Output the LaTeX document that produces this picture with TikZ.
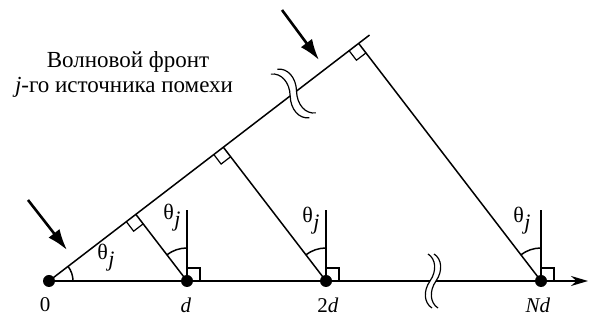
\documentclass[tikz,border=0pt]{standalone}
\usepackage{fontspec}
\setmainfont{Liberation Serif}
\usetikzlibrary{arrows.meta,calc}
\begin{document}
\begin{tikzpicture}[x=1pt,y=1pt,
  ln/.style={line width=1.5pt},
  axisline/.style={line width=2pt},
  dot/.style={circle,fill,inner sep=0pt,minimum size=12pt},
  lbl/.style={font=\fontsize{21}{21}\selectfont, inner sep=0pt},
  thl/.style={font=\fontsize{22}{22}\selectfont, inner sep=0pt},
  txt/.style={font=\fontsize{23}{23}\selectfont, inner sep=0pt, anchor=base},
  bigarrow/.style={line width=2.6pt,-{Latex[length=21pt,width=14pt]}},
  brk/.style={line width=1.2pt},
  ra/.style={line width=1.2pt}]
\useasboundingbox (0,0) rectangle (591,320);
\def\th{37.5}
\newcommand{\thj}{θ\kern0.5pt\raisebox{-0.33em}{\textit{j}}}
% points on the axis
\node[dot] (p0) at (49,39) {};
\node[dot] (p1) at (187,39) {};
\node[dot] (p2) at (326,39) {};
\node[dot] (pN) at (541,39) {};
\coordinate (tip) at (588,39);
\coordinate (brkL) at (430,39);
\coordinate (brkR) at (436,39);
% axis
\draw[axisline] (p0.center) -- (brkL);
\draw[axisline,-{Stealth[length=17pt,width=10pt]}] (brkR) -- (tip);
% axis break
\foreach \c in {430,436}{
  \draw[brk] (\c-2,66) .. controls (\c+6,61) and (\c+7,49) .. (\c,39)
     .. controls (\c-7,29) and (\c-6,17) .. (\c+2,12);
}
% wavefront
\coordinate (W) at ($(p0.center)+(\th:404)$);
\coordinate (B1) at ($(p0.center)+(\th:304)$);
\coordinate (B2) at ($(p0.center)+(\th:312)$);
\draw[ln] (p0.center) -- (B1);
\draw[ln] (B2) -- (W);
\begin{scope}[shift={(p0.center)},rotate=\th]
\foreach \c in {304,312}{
  \draw[brk] (\c-2,29) .. controls (\c+7,24) and (\c+8,11) .. (\c,0)
     .. controls (\c-8,-11) and (\c-7,-24) .. (\c+2,-29);
}
\end{scope}
% feet of perpendiculars
\coordinate (F1) at ($(p0.center)!(p1.center)!(W)$);
\coordinate (F2) at ($(p0.center)!(p2.center)!(W)$);
\coordinate (FN) at ($(p0.center)!(pN.center)!(W)$);
\foreach \f/\p in {F1/p1,F2/p2,FN/pN}{
  \draw[ln] (\f) -- (\p.center);
  \draw[ra,shift={(\f)},rotate=\th] (-12,0) -- (-12,-12) -- (0,-12);
  \draw[ln] (\p.center) -- ++(0,71);
  \draw[ra] ($(\p.center)+(0,13)$) -- ++(13,0) -- ++(0,-13);
  \draw[ln] ($(\p.center)+(90:33)$) arc[start angle=90,end angle={90+\th},radius=33];
}
\draw[ln] ($(p0.center)+(0:24)$) arc[start angle=0,end angle=\th,radius=24];
% theta labels
\node[thl] (t0) at (106,62) {\thj};
\node[thl] (t1) at (172,102) {\thj};
\node[thl] (t2) at (311,99) {\thj};
\node[thl] (tN) at (522,99) {\thj};
% axis labels
\node[lbl] (l0) at (45,15) {0};
\node[lbl] (l1) at (186,15) {\textit{d}};
\node[lbl] (l2) at (328,15) {2\textit{d}};
\node[lbl] (lN) at (538,15) {\textit{Nd}};
% arrows
\coordinate (a1s) at (28,120);
\coordinate (a1e) at (67,70);
\coordinate (a2s) at (282,310);
\coordinate (a2e) at (319,260);
\draw[bigarrow] (a1s) -- (a1e);
\draw[bigarrow] (a2s) -- (a2e);
% text
\node[txt] (title1) at (128,252) {Волновой фронт};
\node[txt] (title2) at (124,227) {\textit{j}-го источника помехи};
\end{tikzpicture}
\end{document}
